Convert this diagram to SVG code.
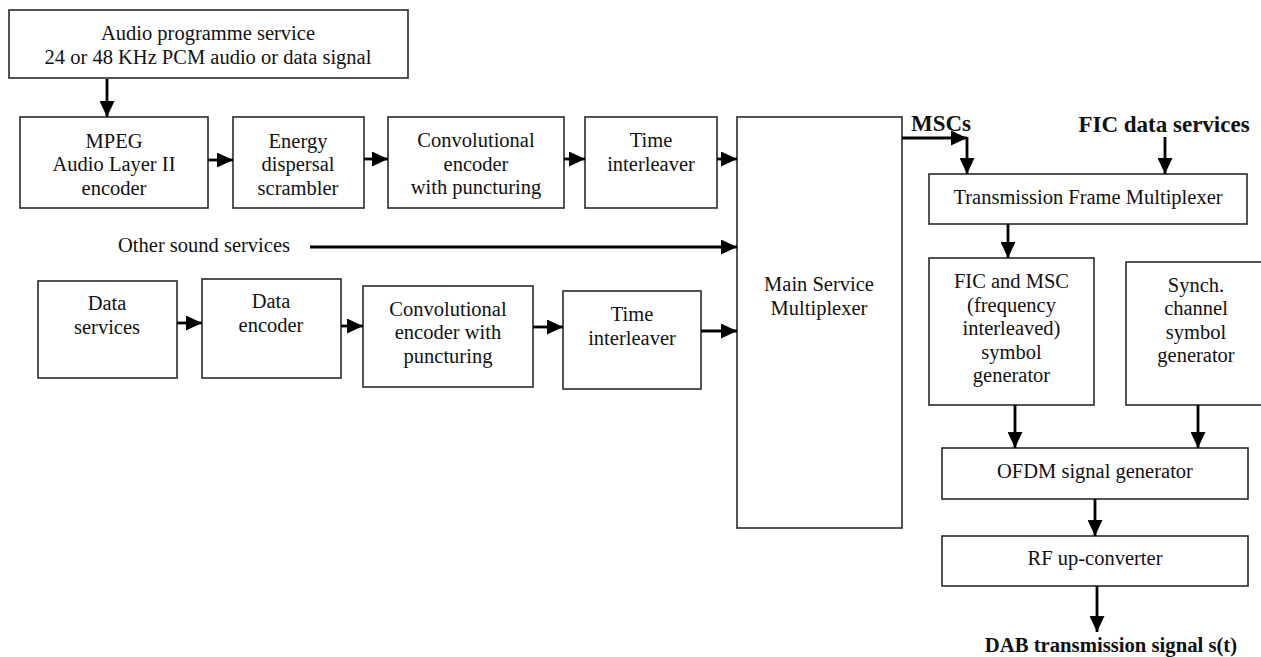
<svg xmlns="http://www.w3.org/2000/svg" width="1261" height="657" viewBox="0 0 1261 657">
<style>
.box{fill:#fff;stroke:#2a2a2a;stroke-width:1.6}
.t{font-family:"Liberation Serif","Times New Roman",serif;font-size:20.5px;fill:#111;text-anchor:middle}
.b{font-family:"Liberation Serif","Times New Roman",serif;font-weight:bold;fill:#111;text-anchor:middle}
.c{fill:none;stroke:#000;stroke-width:2.8}
</style>
<defs>
<marker id="ah" markerUnits="userSpaceOnUse" markerWidth="16" markerHeight="15" refX="16" refY="7.5" orient="auto">
<path d="M0,0 L16,7.5 L0,15 z" fill="#000"/>
</marker>
</defs>
<rect width="1261" height="657" fill="#fff"/>

<g id="audio"><rect class="box" x="9" y="10" width="399" height="68"/>
<text class="t" x="208" y="40">Audio programme service</text>
<text class="t" x="208" y="64">24 or 48 KHz PCM audio or data signal</text></g>

<g id="mpeg"><rect class="box" x="20" y="117" width="188" height="91"/>
<text class="t" x="114" y="148">MPEG</text>
<text class="t" x="114" y="171">Audio Layer II</text>
<text class="t" x="114" y="195">encoder</text></g>

<g id="energy"><rect class="box" x="233" y="117" width="131" height="91"/>
<text class="t" x="298" y="148">Energy</text>
<text class="t" x="298" y="171">dispersal</text>
<text class="t" x="298" y="195">scrambler</text></g>

<g id="conv1"><rect class="box" x="388" y="117" width="176" height="91"/>
<text class="t" x="476" y="147">Convolutional</text>
<text class="t" x="476" y="171">encoder</text>
<text class="t" x="476" y="194">with puncturing</text></g>

<g id="time1"><rect class="box" x="585" y="117" width="132" height="91"/>
<text class="t" x="651" y="147">Time</text>
<text class="t" x="651" y="171">interleaver</text></g>

<g id="msm"><rect class="box" x="737" y="117" width="165" height="411"/>
<text class="t" x="819" y="291">Main Service</text>
<text class="t" x="819" y="315">Multiplexer</text></g>

<g id="other"><text class="t" x="204" y="252">Other sound services</text></g>

<g id="dataserv"><rect class="box" x="38" y="281" width="139" height="97"/>
<text class="t" x="107" y="310">Data</text>
<text class="t" x="107" y="334">services</text></g>

<g id="dataenc"><rect class="box" x="202" y="279" width="139" height="99"/>
<text class="t" x="271" y="308">Data</text>
<text class="t" x="271" y="332">encoder</text></g>

<g id="conv2"><rect class="box" x="363" y="286" width="170" height="101"/>
<text class="t" x="448" y="316">Convolutional</text>
<text class="t" x="448" y="339">encoder with</text>
<text class="t" x="448" y="363">puncturing</text></g>

<g id="time2"><rect class="box" x="563" y="291" width="138" height="98"/>
<text class="t" x="632" y="321">Time</text>
<text class="t" x="632" y="345">interleaver</text></g>

<g id="mscs"><text class="b" x="941" y="131" font-size="23">MSCs</text></g>
<g id="ficdata"><text class="b" x="1164" y="132" font-size="23">FIC data services</text></g>

<g id="tfm"><rect class="box" x="929" y="174" width="318" height="50"/>
<text class="t" x="1088" y="204">Transmission Frame Multiplexer</text></g>

<g id="ficmsc"><rect class="box" x="929" y="258" width="165" height="147"/>
<text class="t" x="1011.5" y="288">FIC and MSC</text>
<text class="t" x="1011.5" y="311.5">(frequency</text>
<text class="t" x="1011.5" y="335">interleaved)</text>
<text class="t" x="1011.5" y="358.5">symbol</text>
<text class="t" x="1011.5" y="382">generator</text></g>

<g id="synch"><rect class="box" x="1126" y="262" width="145" height="143"/>
<text class="t" x="1196" y="292">Synch.</text>
<text class="t" x="1196" y="315">channel</text>
<text class="t" x="1196" y="338.5">symbol</text>
<text class="t" x="1196" y="362">generator</text></g>

<g id="ofdm"><rect class="box" x="942" y="448" width="306" height="51"/>
<text class="t" x="1095" y="478">OFDM signal generator</text></g>

<g id="rf"><rect class="box" x="942" y="536" width="306" height="50"/>
<text class="t" x="1095" y="565">RF up-converter</text></g>

<g id="dab"><text class="b" x="1111" y="652" font-size="20.7">DAB transmission signal s(t)</text></g>

<g id="connectors">
<path class="c" d="M107,79 V117" marker-end="url(#ah)"/>
<path class="c" d="M208,160 H233" marker-end="url(#ah)"/>
<path class="c" d="M364,159 H388" marker-end="url(#ah)"/>
<path class="c" d="M564,159 H585" marker-end="url(#ah)"/>
<path class="c" d="M717,159 H737" marker-end="url(#ah)"/>
<path class="c" d="M310,247 H737" marker-end="url(#ah)"/>
<path class="c" d="M177,323 H202" marker-end="url(#ah)"/>
<path class="c" d="M341,326 H363" marker-end="url(#ah)"/>
<path class="c" d="M533,327 H563" marker-end="url(#ah)"/>
<path class="c" d="M701,331 H737" marker-end="url(#ah)"/>
<path class="c" d="M902,138 H967" marker-end="url(#ah)"/>
<path class="c" d="M967,137 V174" marker-end="url(#ah)"/>
<path class="c" d="M1165,137 V174" marker-end="url(#ah)"/>
<path class="c" d="M1008,224 V258" marker-end="url(#ah)"/>
<path class="c" d="M1015,405 V448" marker-end="url(#ah)"/>
<path class="c" d="M1198,405 V448" marker-end="url(#ah)"/>
<path class="c" d="M1095,499 V536" marker-end="url(#ah)"/>
<path class="c" d="M1097,586 V632" marker-end="url(#ah)"/>
</g>
</svg>
